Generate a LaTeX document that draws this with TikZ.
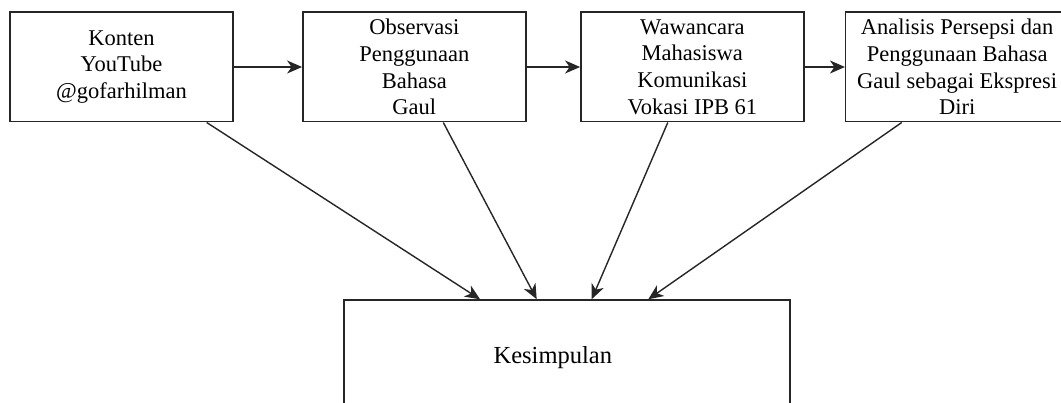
\documentclass[tikz,border=0pt]{standalone}
\usepackage{fontspec}
\setmainfont{Liberation Serif}
\usetikzlibrary{arrows.meta}
\begin{document}
\begin{tikzpicture}[x=1pt,y=-1pt,
  box/.style={draw=black!85, line width=1.5pt, fill=white, minimum width=223pt, minimum height=109.5pt, inner sep=0pt, align=center, font=\fontsize{22.5}{26.7}\selectfont},
  arr/.style={draw=black!85, line width=1.4pt, -{Stealth[length=15pt,width=13pt,inset=4.5pt]}}]
\clip (0,0) rectangle (1061,403);
\fill[white] (0,0) rectangle (1061,403);
\node[box] (b1) at (121.5,67) {Konten\\YouTube\\@gofarhilman};
\node[box] (b2) at (414.35,67) {Observasi\\Penggunaan\\Bahasa\\Gaul};
\node[box] (b3) at (692.35,67) {Wawancara\\Mahasiswa\\Komunikasi\\Vokasi IPB 61};
\node[box] (b4) at (957.2,67) {Analisis Persepsi dan\\Penggunaan Bahasa\\Gaul sebagai Ekspresi\\Diri};
\node[draw=black!85, line width=1.5pt, minimum width=446pt, minimum height=200pt, inner sep=0pt] (k) at (567,400) {};
\node[anchor=base, font=\fontsize{24.5}{29}\selectfont, inner sep=0pt] (kt) at (552.8,363.3) {Kesimpulan};
\draw[arr] (b1.east) -- (b2.west);
\draw[arr] (b2.east) -- (b3.west);
\draw[arr] (b3.east) -- (b4.west);
\draw[arr] ([xshift=85.2pt]b1.south) -- ([xshift=-87pt]k.north);
\draw[arr] ([xshift=28.95pt]b2.south) -- ([xshift=-30.3pt]k.north);
\draw[arr] ([xshift=-24.55pt]b3.south) -- ([xshift=24.7pt]k.north);
\draw[arr] ([xshift=-55.5pt]b4.south) -- ([xshift=81.3pt]k.north);
\end{tikzpicture}
\end{document}
